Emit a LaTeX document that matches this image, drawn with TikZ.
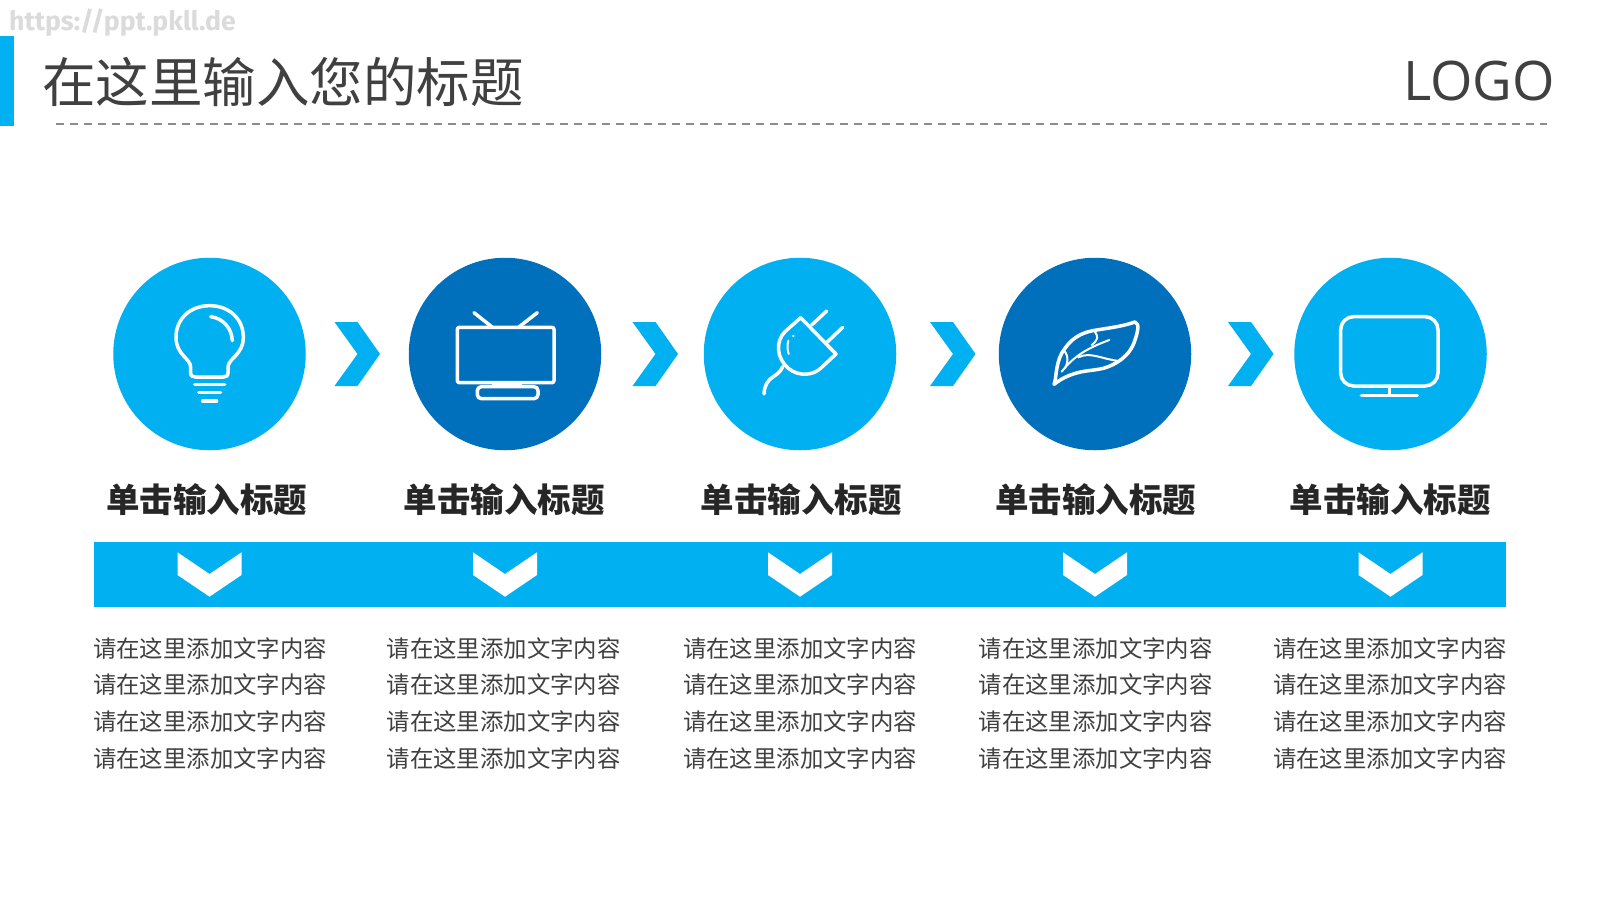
\documentclass[tikz,border=0pt]{standalone}
\usepackage{fontspec}
\setmainfont{Open Sans}
\newfontfamily\cjk{Noto Sans CJK SC}
\newfontfamily\wmfont{Fira Sans}
\definecolor{lblue}{HTML}{00B0F0}
\definecolor{dblue}{HTML}{0070BC}
\definecolor{ink}{HTML}{404040}
\tikzset{
  disc/.style={circle,minimum size=192.5pt,inner sep=0pt,fill=#1},
  icon/.style={draw=white,line width=3.5pt,line cap=round,line join=round},
  thinicon/.style={draw=white,line width=2pt,line cap=round,line join=round},
  zoomed/.style={x=0.33333pt,y=-0.33333pt},
  headtext/.style={inner sep=0pt,text=black!85,font=\cjk\bfseries\fontsize{33.5pt}{36pt}\selectfont},
  bodytext/.style={inner sep=0pt,text=ink,font=\cjk\fontsize{23.4pt}{26pt}\selectfont}
}
\begin{document}
\begin{tikzpicture}[x=1pt,y=-1pt]
\useasboundingbox (0,0) rectangle (1600,900);
\fill[white] (0,0) rectangle (1600,900);
% header
\node[inner sep=0pt,anchor=west,text=black!14,font=\wmfont\bfseries\fontsize{26.6pt}{30pt}\selectfont] (wm) at (9,22.5) {https://ppt.pkll.de};
\fill[lblue] (0,36) rectangle (14,126);
\node[inner sep=0pt,anchor=west,text=ink,font=\cjk\fontsize{53.5pt}{56pt}\selectfont] (title) at (42,81.5) {在这里输入您的标题};
\node[inner sep=0pt,anchor=east,text=ink,font=\fontsize{54.5pt}{60pt}\selectfont] (logo) at (1555,81.5) {LOGO};
\coordinate (dl) at (55.5,123.8);
\coordinate (dr) at (1547,123.8);
\draw[black!45,line width=1.8pt,dash pattern=on 8pt off 6pt] (dl) -- (dr);
% circles
\node[disc=lblue] (c1) at (209.5,354) {};
\node[disc=dblue] (c2) at (505,354) {};
\node[disc=lblue] (c3) at (800,354) {};
\node[disc=dblue] (c4) at (1095,354) {};
\node[disc=lblue] (c5) at (1390.5,354) {};
% right chevrons
\foreach \x in {334.5,632.5,930,1228}{
  \fill[lblue] (\x,322) -- ++(23,0) -- ++(22.5,32) -- ++(-22.5,32) -- ++(-23,0) -- ++(23,-32) -- cycle;
}
% headings
\foreach \i/\x in {1/206.5,2/504,3/801,4/1095.5,5/1390}{
  \node[headtext] (h\i) at (\x,500) {单击输入标题};
}
% band
\fill[lblue] (94,542) rectangle (1506,606.7);
\foreach \x in {209.5,505,800,1095,1390.5}{
  \fill[white] (\x-32,552.3) -- (\x,574) -- (\x+32,552.3) -- (\x+32,575) -- (\x,596.7) -- (\x-32,575) -- cycle;
}
% body text
\foreach \i/\x in {1/210,2/503.7,3/800,4/1095.7,5/1390}{
  \foreach \j/\y in {1/648.3,2/685,3/721.4,4/758.3}{
    \node[bodytext] (b\i\j) at (\x,\y) {请在这里添加文字内容};
  }
}
% bulb
\begin{scope}[shift={(100,250)},zoomed]
  \draw[icon] (272,368) -- (272,352) .. controls (272,325) and (228,315) .. (228,262) .. controls (228,205) and (272,167) .. (329,167) .. controls (386,167) and (430,205) .. (430,262) .. controls (430,315) and (384,325) .. (384,352) -- (384,368) .. controls (384,378) and (378,381) .. (370,381) -- (286,381) .. controls (278,381) and (272,378) .. (272,368) -- cycle;
  \draw[icon] (332,200) .. controls (370,205) and (395,235) .. (397,272);
  \draw[icon] (284,403) -- (374,403);
  \draw[icon] (296,428) -- (362,428);
  \draw[icon] (308,453) -- (350,453);
% tv
  \draw[icon,rounded corners=2pt] (1072,232) rectangle (1362,398);
  \draw[icon] (1122,188) -- (1175,230);
  \draw[icon] (1312,188) -- (1258,230);
  \draw[thinicon] (1180,400) -- (1180,410);
  \draw[thinicon] (1262,400) -- (1262,410);
  \draw[thinicon] (1180,404) -- (1262,404);
  \draw[icon,rounded corners=4pt] (1132,410) rectangle (1314,446);
\end{scope}
% plug and leaf
\begin{scope}[shift={(690,250)},zoomed]
  \draw[icon] (332,203) -- (438,312) -- (395,352) .. controls (370,378) and (325,380) .. (295,355) .. controls (260,325) and (255,275) .. (285,245) -- cycle;
  \draw[icon] (365,225) -- (410,183);
  \draw[icon] (412,276) -- (458,232);
  \draw[icon] (278,350) .. controls (265,385) and (225,375) .. (222,432);
  \draw[thinicon] (295,272) .. controls (291,285) and (292,298) .. (296,312);
  \fill[white] (310,258) circle[radius=1.3pt];
  \draw[icon] (1092,403) .. controls (1100,390) and (1095,330) .. (1125,295) .. controls (1150,258) and (1185,245) .. (1220,240) .. controls (1270,232) and (1300,228) .. (1335,216) .. controls (1350,220) and (1342,250) .. (1335,270) .. controls (1320,320) and (1275,345) .. (1240,355) .. controls (1200,365) and (1150,358) .. (1092,403) -- cycle;
  \draw[thinicon] (1115,365) .. controls (1150,320) and (1190,295) .. (1258,270);
  \draw[thinicon] (1165,322) .. controls (1200,305) and (1230,325) .. (1280,332);
  \draw[thinicon] (1215,245) .. controls (1225,260) and (1225,270) .. (1205,285);
  \draw[thinicon] (1125,305) .. controls (1135,320) and (1135,335) .. (1125,355);
\end{scope}
% monitor
\begin{scope}[shift={(1200,250)},zoomed]
  \draw[icon,rounded corners=13pt] (422,200) rectangle (714,408);
  \draw[icon] (568,408) -- (568,436);
  \draw[icon] (484,436) -- (652,436);
\end{scope}
\end{tikzpicture}
\end{document}
